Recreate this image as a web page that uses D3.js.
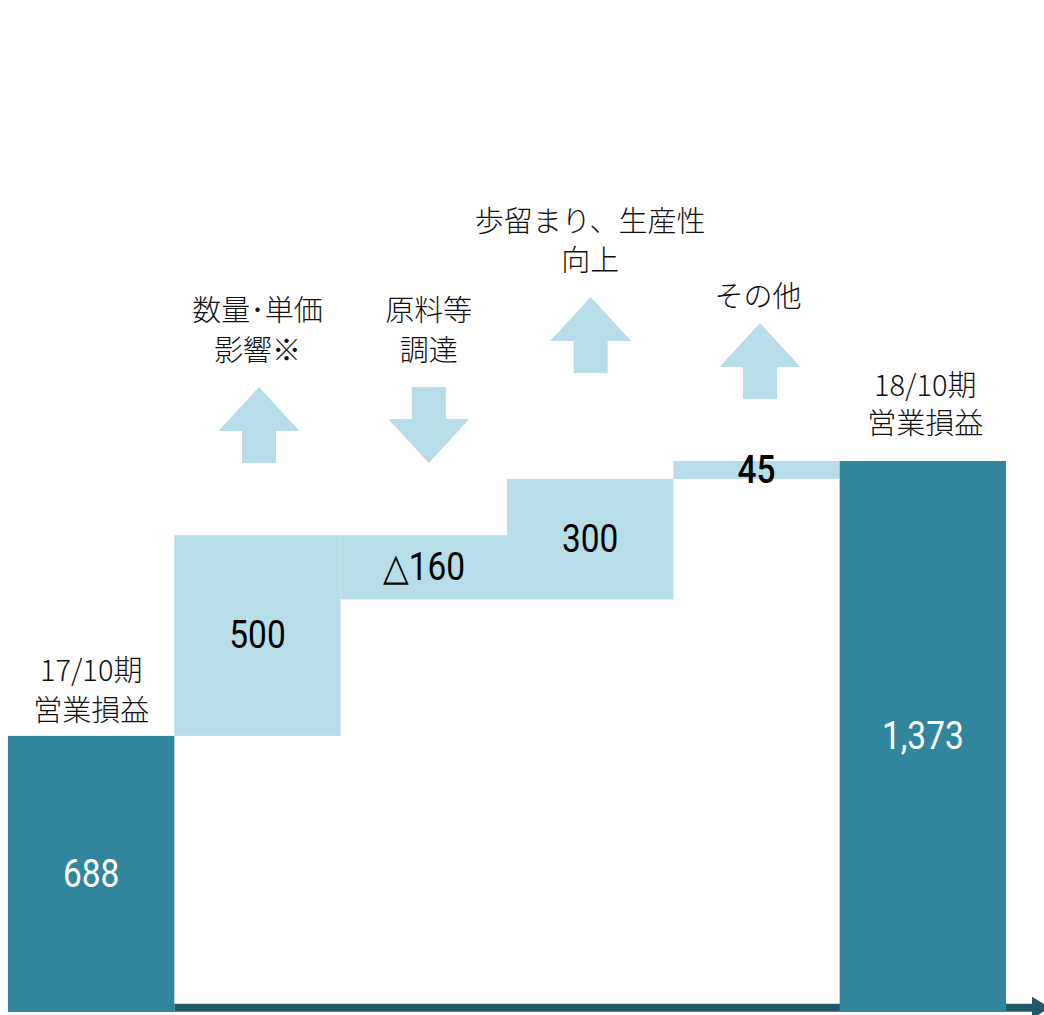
<!DOCTYPE html>
<html>
<head>
<meta charset="utf-8">
<script src="https://cdn.jsdelivr.net/npm/d3@7"></script>
<style>
  html, body { margin: 0; padding: 0; background: #ffffff; }
  svg { display: block; }
</style>
</head>
<body>
<svg id="chart" width="1044" height="1015"></svg>
<script>
// ---- data ----
const categories = ["start", "volume", "material", "yield", "other", "end"];
const labels = [
  ["17/10期", "営業損益"],
  ["数量･単価", "影響※"],
  ["原料等", "調達"],
  ["歩留まり、生産性", "向上"],
  ["その他"],
  ["18/10期", "営業損益"]
];
const values = [688, 500, -160, 300, 45, 1373];
const kinds = ["total", "delta", "delta", "delta", "delta", "total"];
const valueLabels = ["688", "500", "△160", "300", "45", "1,373"];

// ---- layout (pixels, not data) ----
const W = 1044, H = 1015;
const baseY = 1012, topY = 461;
const colDark = "#31859c", colLight = "#b7dee8", colAxis = "#215968";
// label line centers and arrow boxes per column
const annot = [
  { lines: [668, 708], size: 29, dx: 0 },
  { lines: [308, 348], size: 29, dx: 0, arrow: { top: 387, dx: 1.5 } },
  { lines: [308, 348], size: 29, dx: 5, arrow: { top: 387, dx: 5 } },
  { lines: [219, 258], size: 29, dx: 0, arrow: { top: 297, dx: 0.5 } },
  { lines: [294], size: 29, dx: 1.5, arrow: { top: 323, dx: 3.5 } },
  { lines: [383, 421], size: 29, dx: 2.5 }
];
const arrowW = 81, arrowH = 76, shaftW = 34, headH = 44;

const svg = d3.select("#chart");

const x = d3.scaleBand().domain(categories).range([8, 1006]).padding(0);
const maxV = d3.max(values.filter((v, i) => kinds[i] === "total"));
const y = d3.scaleLinear().domain([0, maxV]).range([baseY, topY]);

// compute waterfall segments
let running = 0;
const segs = values.map((v, i) => {
  let lo, hi;
  if (kinds[i] === "total") { lo = 0; hi = v; running = v; }
  else { const s = running; running += v; lo = Math.min(s, running); hi = Math.max(s, running); }
  return { cat: categories[i], lo, hi, v, kind: kinds[i], i };
});

// axis line (behind bars)
const axStart = x(categories[1]);
const axEnd = 1032;
const axY = 1007.7;
svg.append("line")
  .attr("x1", axStart).attr("x2", axEnd)
  .attr("y1", axY).attr("y2", axY)
  .attr("stroke", colAxis).attr("stroke-width", 8);
svg.append("path")
  .attr("d", `M${axEnd},${axY - 11}L${axEnd + 18},${axY}L${axEnd},${axY + 11}Z`)
  .attr("fill", colAxis);

// bars
svg.selectAll("rect.bar").data(segs).enter().append("rect")
  .attr("class", "bar")
  .attr("x", d => x(d.cat))
  .attr("width", x.bandwidth())
  .attr("y", d => y(d.hi))
  .attr("height", d => y(d.lo) - y(d.hi))
  .attr("fill", d => d.kind === "total" ? colDark : colLight);

// value labels
svg.selectAll("text.val").data(segs).enter().append("text")
  .attr("class", "val")
  .attr("transform", d => {
    const cx = x(d.cat) + x.bandwidth() / 2;
    const cy = (y(d.lo) + y(d.hi)) / 2;
    return `translate(${cx},${cy}) scale(0.88,1)`;
  })
  .attr("text-anchor", "middle")
  .attr("dominant-baseline", "central")
  .attr("font-family", "Roboto, 'Liberation Sans', sans-serif")
  .attr("font-size", 38)
  .attr("font-weight", d => d.i === 4 ? 500 : 400)
  .attr("fill", d => d.kind === "total" ? "#ffffff" : "#000000")
  .text(d => valueLabels[d.i]);

// category labels
segs.forEach(d => {
  const a = annot[d.i];
  const cx = x(d.cat) + x.bandwidth() / 2 + a.dx;
  labels[d.i].forEach((line, k) => {
    svg.append("text")
      .attr("x", cx).attr("y", a.lines[k])
      .attr("text-anchor", "middle")
      .attr("dominant-baseline", "central")
      .attr("font-family", "'Noto Sans CJK JP', sans-serif")
      .attr("font-weight", 300)
      .attr("font-size", a.size)
      .attr("fill", "#111111")
      .text(line);
  });
  if (a.arrow) {
    const ax = x(d.cat) + x.bandwidth() / 2 + a.arrow.dx;
    const t = a.arrow.top, b = t + arrowH;
    const hw = arrowW / 2, sw = shaftW / 2;
    let p;
    if (d.v >= 0) {
      p = `M${ax},${t}L${ax + hw},${t + headH}L${ax + sw},${t + headH}L${ax + sw},${b}L${ax - sw},${b}L${ax - sw},${t + headH}L${ax - hw},${t + headH}Z`;
    } else {
      p = `M${ax},${b}L${ax + hw},${b - headH}L${ax + sw},${b - headH}L${ax + sw},${t}L${ax - sw},${t}L${ax - sw},${b - headH}L${ax - hw},${b - headH}Z`;
    }
    svg.append("path").attr("d", p).attr("fill", colLight);
  }
});
</script>
</body>
</html>
